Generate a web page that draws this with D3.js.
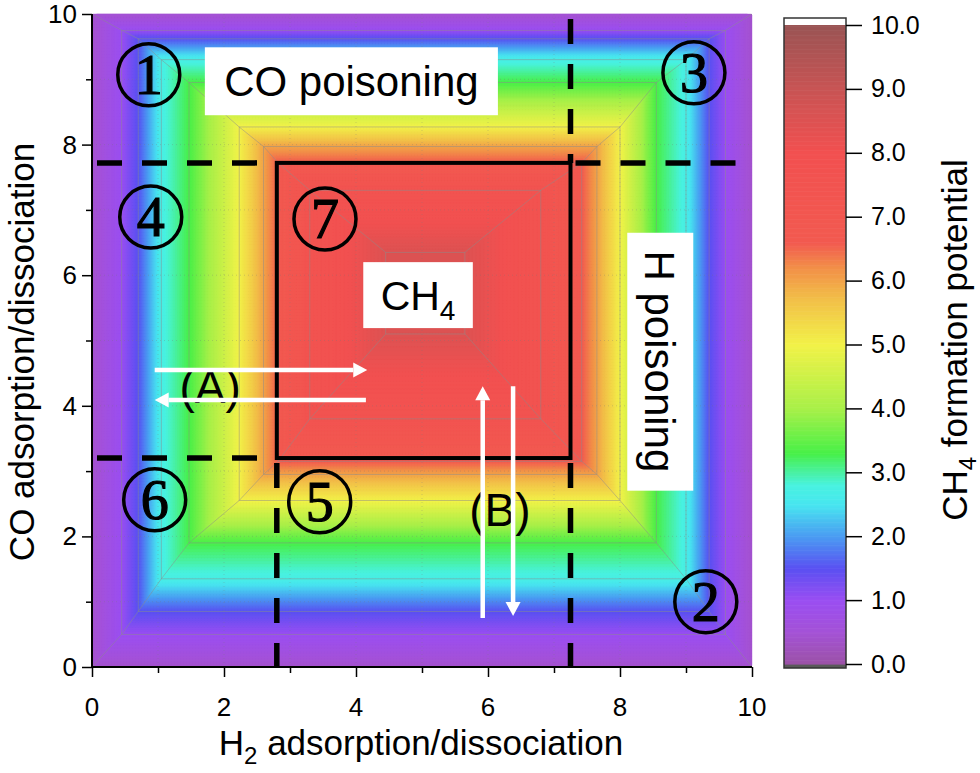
<!DOCTYPE html>
<html>
<head>
<meta charset="utf-8">
<script src="https://cdn.jsdelivr.net/npm/d3@7"></script>
<style>
  body { margin: 0; background: #fff; }
  svg { display: block; font-family: "Liberation Sans", Arial, sans-serif; }
</style>
</head>
<body>
<svg id="chart" width="980" height="773"></svg>
<script>

// contour rings: level and the rectangle where the field has that level
let ringLevel  = [0.4, 1.0, 1.5, 2.7, 3.3, 5.0, 6.0, 6.6, 7.5, 8.5];
let ringLeft   = [0,   0.45, 0.7, 1.05, 1.47, 2.23, 2.6, 2.82, 3.3, 4.45];
let ringRight  = [10,  9.6,  9.35, 9.0, 8.55, 8.0, 7.65, 7.42, 6.8, 5.65];
let ringBottom = [0,   0.5,  0.85, 1.35, 1.9, 2.55, 2.95, 3.15, 3.8, 5.1];
let ringTop    = [10,  9.75, 9.62, 9.3, 8.95, 8.27, 7.97, 7.72, 7.3, 6.35];

// colour map stops (colour bar)
let stopValues = [0, 0.5, 1.0, 1.5, 2.0, 2.5, 2.8, 3.3, 4.0, 5.0, 5.7, 6.2, 6.6, 8.0, 9.0, 10.0];
let stopColors = ['#9b52a6', '#a452d6', '#9a4ef2', '#5a50f2', '#4a9cf2', '#48e6f0', '#48f2e0',
                  '#48f048', '#a8f048', '#f2f248', '#f2c048', '#f29048', '#f25a50', '#f25050',
                  '#c85454', '#9a5454'];

let xTicks = [0, 2, 4, 6, 8, 10];
let yTicks = [0, 2, 4, 6, 8, 10];
let barTicks = [0, 1, 2, 3, 4, 5, 6, 7, 8, 9, 10];

// regions on the map
let regionX = [2.8, 7.25];
let regionY = [3.2, 7.72];
let markNum = ['1', '2', '3', '4', '5', '6', '7'];
let markX = [0.86, 9.3, 9.12, 0.89, 3.45, 0.95, 3.53];
let markY = [9.07, 1.0, 9.1, 6.89, 2.53, 2.56, 6.86];

let svg = d3.select('#chart');

let x = d3.scaleLinear().domain([0, 10]).range([92, 752]);
let y = d3.scaleLinear().domain([0, 10]).range([667, 14]);
let barY = d3.scaleLinear().domain([0, 10]).range([664, 25]);

let color = d3.scaleLinear()
    .domain(stopValues)
    .range(stopColors)
    .interpolate(d3.interpolateRgb)
    .clamp(true);

// field value from the nested rings
function fieldAt(px, py) {
  let n = ringLevel.length;
  for (let i = 0; i < n - 1; i++) {
    let t = Math.min(
      (px - ringLeft[i]) / (ringLeft[i + 1] - ringLeft[i]),
      (ringRight[i] - px) / (ringRight[i] - ringRight[i + 1]),
      (py - ringBottom[i]) / (ringBottom[i + 1] - ringBottom[i]),
      (ringTop[i] - py) / (ringTop[i] - ringTop[i + 1]));
    if (t < 1) return ringLevel[i] + Math.max(0, t) * (ringLevel[i + 1] - ringLevel[i]);
  }
  return ringLevel[n - 1];
}

let N = 220;
let grid = new Array(N * N);
for (let j = 0; j < N; j++) {
  for (let i = 0; i < N; i++) {
    grid[j * N + i] = fieldAt((i + 0.5) / N * 10, (j + 0.5) / N * 10);
  }
}

let step = 0.05;
let contours = d3.contours()
    .size([N, N])
    .thresholds(d3.range(ringLevel[0], 9.3, step))(grid);

let proj = d3.geoTransform({
  point: function(gx, gy) { this.stream.point(x(gx / N * 10), y(gy / N * 10)); }
});
let path = d3.geoPath(proj);

let plot = svg.append('g').attr('class', 'plot');

plot.append('rect')
    .attr('x', x(0)).attr('y', y(10))
    .attr('width', x(10) - x(0)).attr('height', y(0) - y(10))
    .attr('fill', color(ringLevel[0]));

plot.append('g')
  .selectAll('path')
  .data(contours)
  .enter().append('path')
    .attr('d', path)
    .attr('fill', function(d) { return color(d.value + step / 2); })
    .attr('stroke', function(d) { return color(d.value + step / 2); })
    .attr('stroke-width', 0.4);

// faint dotted grid
let grid1 = d3.range(1, 10);
plot.append('g')
  .selectAll('line.gx')
  .data(grid1)
  .enter().append('line')
    .attr('x1', function(d) { return x(d); }).attr('x2', function(d) { return x(d); })
    .attr('y1', y(0)).attr('y2', y(10))
    .attr('stroke', '#777').attr('stroke-opacity', 0.3)
    .attr('stroke-dasharray', '1,3');
plot.append('g')
  .selectAll('line.gy')
  .data(grid1)
  .enter().append('line')
    .attr('y1', function(d) { return y(d); }).attr('y2', function(d) { return y(d); })
    .attr('x1', x(0)).attr('x2', x(10))
    .attr('stroke', '#777').attr('stroke-opacity', 0.3)
    .attr('stroke-dasharray', '1,3');

// thin gray mesh lines (ring outlines and corner diagonals)
let ringIdx = d3.range(1, ringLevel.length);
let mesh = plot.append('g')
    .attr('fill', 'none')
    .attr('stroke', '#8c8c8c')
    .attr('stroke-opacity', 0.6)
    .attr('stroke-width', 0.8);

mesh.selectAll('rect')
  .data(ringIdx)
  .enter().append('rect')
    .attr('x', function(i) { return x(ringLeft[i]); })
    .attr('y', function(i) { return y(ringTop[i]); })
    .attr('width', function(i) { return x(ringRight[i]) - x(ringLeft[i]); })
    .attr('height', function(i) { return y(ringBottom[i]) - y(ringTop[i]); });

let corners = [];
ringIdx.forEach(function(i) {
  corners.push([ringLeft[i - 1], ringTop[i - 1], ringLeft[i], ringTop[i]]);
  corners.push([ringRight[i - 1], ringTop[i - 1], ringRight[i], ringTop[i]]);
  corners.push([ringLeft[i - 1], ringBottom[i - 1], ringLeft[i], ringBottom[i]]);
  corners.push([ringRight[i - 1], ringBottom[i - 1], ringRight[i], ringBottom[i]]);
});
mesh.selectAll('line')
  .data(corners)
  .enter().append('line')
    .attr('x1', function(d) { return x(d[0]); })
    .attr('y1', function(d) { return y(d[1]); })
    .attr('x2', function(d) { return x(d[2]); })
    .attr('y2', function(d) { return y(d[3]); });

// region lines
let dashed = [
  [0, regionY[1], regionX[0], regionY[1]],
  [regionX[1], regionY[1], 10, regionY[1]],
  [0, regionY[0], regionX[0], regionY[0]],
  [regionX[1], 10, regionX[1], regionY[1]],
  [regionX[0], regionY[0], regionX[0], 0],
  [regionX[1], regionY[0], regionX[1], 0]
];
svg.append('g')
  .selectAll('line')
  .data(dashed)
  .enter().append('line')
    .attr('x1', function(d) { return x(d[0]); })
    .attr('y1', function(d) { return y(d[1]); })
    .attr('x2', function(d) { return x(d[2]); })
    .attr('y2', function(d) { return y(d[3]); })
    .attr('stroke', '#000')
    .attr('stroke-width', 5.5)
    .attr('stroke-dasharray', '25,20')
    .attr('stroke-dashoffset', -5);

svg.append('rect')
    .attr('x', x(regionX[0])).attr('y', y(regionY[1]))
    .attr('width', x(regionX[1]) - x(regionX[0]))
    .attr('height', y(regionY[0]) - y(regionY[1]))
    .attr('fill', 'none')
    .attr('stroke', '#000')
    .attr('stroke-width', 4);

// white label boxes
let boxes = [
  {x0: 1.71, x1: 6.15, y0: 8.45, y1: 9.49},
  {x0: 4.11, x1: 5.77, y0: 5.19, y1: 6.2},
  {x0: 8.11, x1: 9.11, y0: 2.7, y1: 6.65}
];
svg.append('g')
  .selectAll('rect')
  .data(boxes)
  .enter().append('rect')
    .attr('x', function(d) { return x(d.x0); })
    .attr('y', function(d) { return y(d.y1); })
    .attr('width', function(d) { return x(d.x1) - x(d.x0); })
    .attr('height', function(d) { return y(d.y0) - y(d.y1); })
    .attr('fill', '#fff');

svg.append('text')
    .attr('x', x(3.93)).attr('y', y(8.97) + 15)
    .attr('text-anchor', 'middle')
    .attr('font-size', 42)
    .text('CO poisoning');

let ch4 = svg.append('text')
    .attr('x', x(4.94)).attr('y', y(5.7) + 15)
    .attr('text-anchor', 'middle')
    .attr('font-size', 41);
ch4.append('tspan').text('CH');
ch4.append('tspan').attr('font-size', 28).attr('dy', 10).text('4');

svg.append('text')
    .attr('transform', 'translate(' + (x(8.61) - 15) + ',' + y(4.68) + ') rotate(90)')
    .attr('text-anchor', 'middle')
    .attr('font-size', 42)
    .text('H poisoning');

svg.append('text')
    .attr('x', x(1.79)).attr('y', y(4.29) + 16)
    .attr('text-anchor', 'middle')
    .attr('font-size', 46)
    .text('(A)');
svg.append('text')
    .attr('x', x(6.18)).attr('y', y(2.4) + 16)
    .attr('text-anchor', 'middle')
    .attr('font-size', 46)
    .text('(B)');

// arrows (A) and (B)
let arrows = [
  [0.95, 4.55, 4.17, 4.55],
  [4.15, 4.09, 0.95, 4.09],
  [5.92, 0.75, 5.92, 4.3],
  [6.38, 4.3, 6.38, 0.78]
];
let arrowG = svg.append('g');
arrows.forEach(function(a) {
  let x1 = x(a[0]), y1 = y(a[1]), x2 = x(a[2]), y2 = y(a[3]);
  let ang = Math.atan2(y2 - y1, x2 - x1);
  let hl = 14, hw = 7.5;
  let bx = x2 - hl * Math.cos(ang), by = y2 - hl * Math.sin(ang);
  arrowG.append('line')
      .attr('x1', x1).attr('y1', y1).attr('x2', bx).attr('y2', by)
      .attr('stroke', '#fff').attr('stroke-width', 4.5);
  arrowG.append('path')
      .attr('d', 'M' + x2 + ',' + y2 +
        'L' + (bx + hw * Math.sin(ang)) + ',' + (by - hw * Math.cos(ang)) +
        'L' + (bx - hw * Math.sin(ang)) + ',' + (by + hw * Math.cos(ang)) + 'Z')
      .attr('fill', '#fff');
});

// circled numbers
let marks = svg.append('g')
  .selectAll('g')
  .data(markNum)
  .enter().append('g')
    .attr('transform', function(d, i) { return 'translate(' + x(markX[i]) + ',' + y(markY[i]) + ')'; });
marks.append('circle')
    .attr('r', 31)
    .attr('fill', 'none')
    .attr('stroke', '#000')
    .attr('stroke-width', 3.5);
marks.append('text')
    .attr('y', 19)
    .attr('text-anchor', 'middle')
    .attr('font-family', '"Liberation Serif", "DejaVu Serif", serif')
    .attr('font-size', 56)
    .attr('stroke', '#000')
    .attr('stroke-width', 1.2)
    .text(function(d) { return d; });

// axes
let xAxis = svg.append('g')
    .attr('transform', 'translate(0,' + y(0) + ')')
    .call(d3.axisBottom(x).tickValues(d3.range(0, 11, 1)).tickSize(10).tickFormat(''));
xAxis.selectAll('.tick line').attr('y2', function(d) { return d % 2 ? 6 : 10; });
let yAxis = svg.append('g')
    .attr('transform', 'translate(' + x(0) + ',0)')
    .call(d3.axisLeft(y).tickValues(d3.range(0, 11, 1)).tickSize(10).tickFormat(''));
yAxis.selectAll('.tick line').attr('x2', function(d) { return d % 2 ? -6 : -10; });
[xAxis, yAxis].forEach(function(a) {
  a.select('.domain').attr('stroke-width', 2).attr('d', a === xAxis ?
    'M' + x(0) + ',0H' + x(10) : 'M0,' + y(0) + 'V' + y(10));
  a.selectAll('.tick line').attr('stroke-width', 1.5);
});

svg.append('g')
  .selectAll('text')
  .data(xTicks)
  .enter().append('text')
    .attr('x', function(d) { return x(d); })
    .attr('y', 716)
    .attr('text-anchor', 'middle')
    .attr('font-size', 26)
    .text(function(d) { return d; });
svg.append('g')
  .selectAll('text')
  .data(yTicks)
  .enter().append('text')
    .attr('x', 77)
    .attr('y', function(d) { return y(d) + 9; })
    .attr('text-anchor', 'end')
    .attr('font-size', 26)
    .text(function(d) { return d; });

let xt = svg.append('text')
    .attr('x', 421).attr('y', 755)
    .attr('text-anchor', 'middle')
    .attr('font-size', 35);
xt.append('tspan').text('H');
xt.append('tspan').attr('font-size', 24).attr('dy', 9).text('2');
xt.append('tspan').attr('dy', -9).text(' adsorption/dissociation');

svg.append('text')
    .attr('transform', 'translate(34,352) rotate(-90)')
    .attr('text-anchor', 'middle')
    .attr('font-size', 35)
    .text('CO adsorption/dissociation');

// colour bar
let bar = svg.append('g');
let barStep = 0.02;
bar.append('rect')
    .attr('x', 784).attr('y', 18).attr('width', 62).attr('height', 650)
    .attr('fill', '#fff');
bar.append('rect')
    .attr('x', 784).attr('y', barY(0)).attr('width', 62).attr('height', 668 - barY(0))
    .attr('fill', '#5a5a5a');
bar.selectAll('rect.c')
  .data(d3.range(0, 10, barStep))
  .enter().append('rect')
    .attr('x', 784)
    .attr('y', function(d) { return barY(d + barStep); })
    .attr('width', 62)
    .attr('height', function(d) { return barY(d) - barY(d + barStep) + 0.6; })
    .attr('fill', function(d) { return color(d + barStep / 2); });
bar.append('rect')
    .attr('x', 784).attr('y', 18).attr('width', 62).attr('height', 650)
    .attr('fill', 'none').attr('stroke', '#333').attr('stroke-width', 1.5);

bar.append('g')
    .attr('transform', 'translate(846,0)')
    .call(d3.axisRight(barY).tickValues(barTicks).tickSize(16).tickFormat(d3.format('.1f')))
    .call(function(g) { g.select('.domain').remove(); })
    .call(function(g) {
      g.selectAll('.tick line').attr('stroke-width', 1.5);
      g.selectAll('.tick text')
        .attr('x', 25)
        .attr('font-size', 25)
        .attr('font-family', '"Liberation Sans", Arial, sans-serif')
        .attr('fill', '#000');
    });

let ct = svg.append('text')
    .attr('transform', 'translate(967,340) rotate(-90)')
    .attr('text-anchor', 'middle')
    .attr('font-size', 35);
ct.append('tspan').text('CH');
ct.append('tspan').attr('font-size', 24).attr('dy', 9).text('4');
ct.append('tspan').attr('dy', -9).text(' formation potential');

</script>
</body>
</html>
